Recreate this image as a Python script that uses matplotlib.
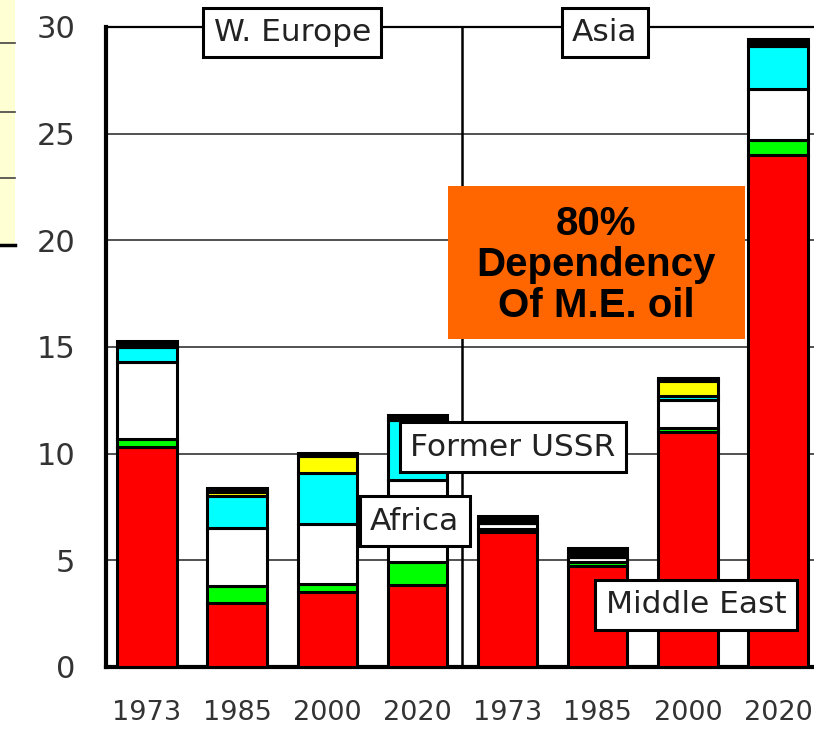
import matplotlib.pyplot as plt
from matplotlib.patches import Rectangle
from matplotlib.lines import Line2D

years = ['1973', '1985', '2000', '2020', '1973', '1985', '2000', '2020']
regions = ['W. Europe', 'Asia']

# stacked segments, bottom to top (values in the chart's units)
middle_east = [10.3, 3.0, 3.5, 3.85, 6.35, 4.75, 11.0, 24.0]
green_part = [0.4, 0.8, 0.4, 1.05, 0.1, 0.15, 0.2, 0.7]
africa = [3.6, 2.7, 2.8, 3.85, 0.3, 0.25, 1.3, 2.4]
former_ussr = [0.7, 1.5, 2.4, 2.85, 0.0, 0.0, 0.2, 2.0]
yellow_part = [0.0, 0.2, 0.8, 0.0, 0.0, 0.0, 0.7, 0.0]
black_part = [0.3, 0.2, 0.15, 0.2, 0.35, 0.45, 0.15, 0.35]

segments = [middle_east, green_part, africa, former_ussr, yellow_part, black_part]
colors = ['#ff0000', '#00ff00', '#ffffff', '#00ffff', '#ffff00', '#000000']

fig = plt.figure(figsize=(8.14, 7.31), dpi=100)
ax = fig.add_axes([106 / 814, 64 / 731, 708 / 814, 640 / 731])

x = list(range(len(years)))
bottom = [0.0] * len(years)
for vals, c in zip(segments, colors):
    ax.bar(x, vals, width=0.66, bottom=bottom, color=c,
           edgecolor='black', linewidth=2.2, zorder=3)
    bottom = [b + v for b, v in zip(bottom, vals)]

ax.set_xlim(-0.455, 7.40)
ax.set_ylim(0, 30)
ax.set_yticks([0, 5, 10, 15, 20, 25, 30])
ax.set_xticks(x)
ax.set_xticklabels(years)
ax.tick_params(axis='y', length=0, pad=22, labelsize=22, labelcolor='#333333')
ax.tick_params(axis='x', length=0, pad=24, labelsize=19.5, labelcolor='#333333')
ax.yaxis.grid(True, color='#333333', linewidth=1.2, zorder=1)
ax.set_axisbelow(True)

for s in ['left', 'bottom']:
    ax.spines[s].set_linewidth(3)
ax.spines['top'].set_linewidth(1.6)
ax.spines['right'].set_visible(False)

# divider between the two regions
ax.axvline(3.5, color='black', linewidth=1.8, zorder=2)

box = dict(boxstyle='square,pad=0.33', facecolor='white', edgecolor='black', linewidth=2.2)
for name, px in zip(regions, [1.61, 5.08]):
    ax.text(px, 29.75, name, ha='center', va='center', fontsize=22.5,
            color='#222222', bbox=box, zorder=6, clip_on=False)

ax.text(4.06, 10.3, 'Former USSR', ha='center', va='center', fontsize=22.5,
        color='#222222', bbox=box, zorder=6)
ax.text(2.97, 6.84, 'Africa', ha='center', va='center', fontsize=22.5,
        color='#222222', bbox=box, zorder=6)
ax.text(6.09, 2.91, 'Middle East', ha='center', va='center', fontsize=22.5,
        color='#222222', bbox=box, zorder=6)

ax.add_patch(Rectangle((3.34, 15.38), 3.29, 7.17, facecolor='#ff6600',
                       edgecolor='none', zorder=7))
ax.text(4.985, 18.85, '80%\nDependency\nOf M.E. oil', ha='center', va='center',
        fontsize=29, fontweight='bold', family='Liberation Sans',
        linespacing=1.1, zorder=8)

# pale slide box peeking in on the left
fig.patches.append(Rectangle((0, 1 - 245 / 731), 15 / 814, 245 / 731,
                             transform=fig.transFigure, facecolor='#ffffd4',
                             edgecolor='none'))
for py in [43, 112, 178]:
    fig.lines.append(Line2D([0, 15 / 814], [1 - py / 731] * 2, transform=fig.transFigure,
                            color='#444444', linewidth=1.2))
fig.lines.append(Line2D([0, 15 / 814], [1 - 245 / 731] * 2, transform=fig.transFigure,
                        color='black', linewidth=2.5))

plt.savefig('out.png', dpi=100)
